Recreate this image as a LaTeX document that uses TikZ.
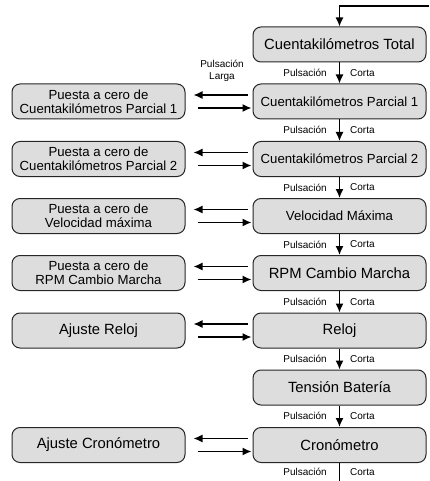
\documentclass[tikz,border=0pt]{standalone}
\usepackage{fontspec}
\setmainfont{Liberation Sans}
\usetikzlibrary{arrows.meta}

\definecolor{grisCaja}{RGB}{221,221,221}

\begin{document}
\begin{tikzpicture}[x=1pt,y=-1pt,
  caja/.style={draw=black!85,fill=grisCaja,line width=1pt,rounded corners=8pt,
    minimum width=173pt,minimum height=35pt,inner sep=0pt,align=center,
    font=\fontsize{14.8}{16}\selectfont},
  chica/.style={font=\fontsize{13.2}{14}\selectfont},
  flecha/.style={line width=1.4pt,-{Latex[length=9pt,width=8pt]}},
  pulso/.style={font=\fontsize{10}{12}\selectfont,inner sep=0pt}]
\useasboundingbox (0,0) rectangle (429,481);

% columna derecha
\node[caja] (r0) at (339.5,44.5) {Cuentakilómetros Total};
\node[caja,chica] (r1) at (339.5,101.5) {Cuentakilómetros Parcial 1};
\node[caja,chica] (r2) at (339.5,159) {Cuentakilómetros Parcial 2};
\node[caja,chica] (r3) at (339.5,216) {Velocidad Máxima};
\node[caja] (r4) at (339.5,273) {RPM Cambio Marcha};
\node[caja] (r5) at (339.5,330.5) {Reloj};
\node[caja] (r6) at (339.5,387.5) {Tensión Batería};
\node[caja] (r7) at (339.5,445) {Cronómetro};

% columna izquierda
\node[caja,chica] (l1) at (98.5,101.5) {Puesta a cero de\\Cuentakilómetros Parcial 1};
\node[caja,chica] (l2) at (98.5,159) {Puesta a cero de\\Cuentakilómetros Parcial 2};
\node[caja,chica] (l3) at (98.5,216) {Puesta a cero de\\Velocidad máxima};
\node[caja,chica] (l4) at (98.5,273) {Puesta a cero de\\RPM Cambio Marcha};
\node[caja] (l5) at (98.5,330.5) {Ajuste Reloj};
\node[caja] (l7) at (98.5,445) {Ajuste Cronómetro};

% pulsacion corta
\foreach \a/\b in {r0/r1,r1/r2,r2/r3,r3/r4,r4/r5,r5/r6,r6/r7}
  \draw[flecha] (\a.south) -- (\b.north)
    node[pulso,midway,left=12pt]{Pulsación} node[pulso,midway,right=10pt]{Corta};

\coordinate (arriba) at (429,6);
\coordinate (abajo) at (339.5,481);
\draw[flecha] (arriba) -| (r0.north);
\draw[line width=1.4pt] (r7.south) -- (abajo)
  node[pulso,pos=0.5,left=12pt]{Pulsación} node[pulso,pos=0.5,right=10pt]{Corta};

% pulsacion larga
\foreach \n in {1,2,3,4,5,7}{
  \draw[flecha,shorten <=5pt,shorten >=8pt] ([yshift=6.5pt]r\n.west) -- ([yshift=6.5pt]l\n.east);
  \draw[flecha,shorten <=12pt,shorten >=1pt] ([yshift=-6.5pt]l\n.east) -- ([yshift=-6.5pt]r\n.west);
}
\node[pulso,align=center,font=\fontsize{10}{12}\selectfont] (larga) at (222,71) {Pulsación\\Larga};
\end{tikzpicture}
\end{document}
